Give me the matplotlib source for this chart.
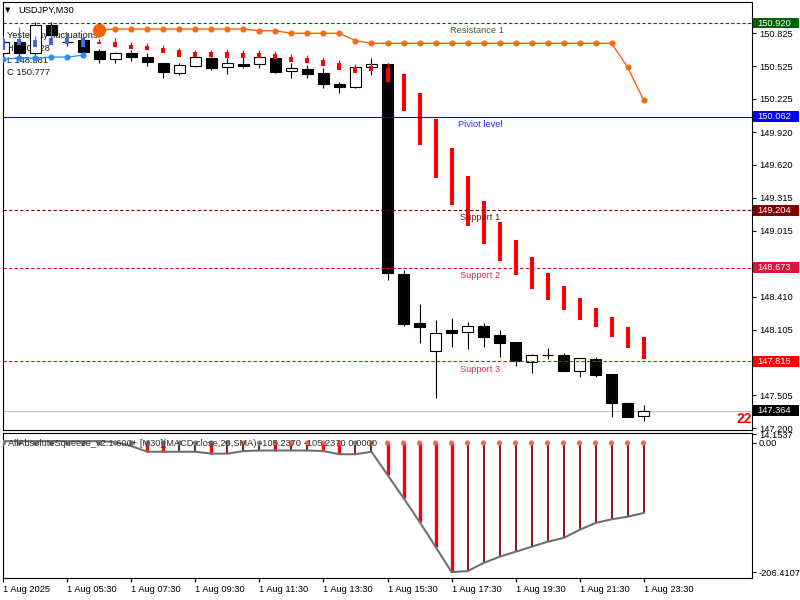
import matplotlib
matplotlib.use('Agg')
import matplotlib.pyplot as plt
import matplotlib.transforms as mtransforms
from matplotlib.patches import Rectangle
import numpy as np

plt.rcParams['font.family'] = ['Liberation Sans', 'DejaVu Sans']
FS = 6.7
nan = np.nan

symbol = 'USDJPY,M30'
yesterday = ['Yesterday fluctuations:', 'H 150.828', 'L 148.581', 'C 150.777']

# 41 visible M30 bars
opens  = [150.645, 150.746, 150.645, 150.902, 150.750, 150.764, 150.663, 150.590, 150.645, 150.608,
          150.553, 150.461, 150.526, 150.599, 150.516, 150.540, 150.544, 150.599, 150.480, 150.498,
          150.461, 150.360, 150.333, 150.516, 150.544, 148.617, 148.168, 147.911, 148.104, 148.085,
          148.140, 148.058, 147.994, 147.810, 147.874, 147.874, 147.727, 147.838, 147.700, 147.434,
          147.310]
highs  = [150.773, 150.782, 150.929, 150.929, 150.782, 150.782, 150.681, 150.654, 150.672, 150.645,
          150.553, 150.553, 150.626, 150.608, 150.599, 150.608, 150.626, 150.626, 150.553, 150.535,
          150.507, 150.379, 150.535, 150.599, 150.553, 148.654, 148.342, 148.195, 148.214, 148.177,
          148.168, 148.104, 147.994, 147.883, 147.938, 147.893, 147.847, 147.856, 147.700, 147.434,
          147.416]
lows   = [150.617, 150.617, 150.626, 150.737, 150.709, 150.636, 150.553, 150.553, 150.571, 150.526,
          150.415, 150.443, 150.516, 150.489, 150.452, 150.507, 150.507, 150.461, 150.415, 150.415,
          150.324, 150.278, 150.324, 150.443, 148.562, 148.140, 147.984, 147.480, 147.948, 147.929,
          147.948, 147.856, 147.773, 147.709, 147.838, 147.727, 147.672, 147.672, 147.305, 147.305,
          147.269]
closes = [150.746, 150.645, 150.902, 150.810, 150.742, 150.654, 150.590, 150.645, 150.608, 150.562,
          150.470, 150.535, 150.608, 150.507, 150.553, 150.530, 150.608, 150.470, 150.507, 150.452,
          150.360, 150.333, 150.516, 150.544, 148.627, 148.159, 148.131, 148.076, 148.076, 148.140,
          148.039, 147.984, 147.819, 147.874, 147.874, 147.727, 147.847, 147.691, 147.434, 147.305,
          147.364]

# marker bars drawn over the candles (blue first six, red after)
mark_wick = [150.801, 150.883, 150.801, 150.902, 150.828, 150.801, 150.773, 150.782, 150.746, 150.737,
             150.718, 150.691, 150.672, 150.672, 150.681, 150.672, 150.672, 150.663, 150.636, 150.626,
             150.608, 150.581, 150.544, 150.553, 150.553, 150.461, 150.278, 150.039, 149.773, 149.516,
             149.287, 149.094, 148.929, 148.773, 148.627, 148.507, 148.397, 148.305, 148.223, 148.131,
             148.039]
mark_top  = [150.773, 150.773, 150.764, 150.782, 150.782, 150.782, 150.746, 150.746, 150.718, 150.709,
             150.691, 150.672, 150.654, 150.654, 150.654, 150.645, 150.645, 150.636, 150.608, 150.599,
             150.581, 150.553, 150.516, 150.526, 150.507, 150.452, 150.278, 150.039, 149.773, 149.516,
             149.287, 149.094, 148.929, 148.773, 148.627, 148.507, 148.397, 148.305, 148.223, 148.131,
             148.039]
mark_bot  = [150.672, 150.718, 150.700, 150.718, 150.727, 150.700, 150.727, 150.700, 150.681, 150.672,
             150.645, 150.608, 150.608, 150.608, 150.599, 150.599, 150.599, 150.590, 150.562, 150.553,
             150.526, 150.489, 150.461, 150.480, 150.379, 150.113, 149.801, 149.498, 149.250, 149.058,
             148.893, 148.737, 148.608, 148.480, 148.379, 148.287, 148.195, 148.131, 148.039, 147.938,
             147.838]
mark_colors = ['#4169e1'] * 6 + ['#ff0000'] * 35

orange_line = [nan, nan, nan, nan, nan, nan, 150.856, 150.865, 150.865, 150.865,
               150.865, 150.865, 150.865, 150.865, 150.865, 150.865, 150.849, 150.849, 150.826, 150.826,
               150.826, 150.826, 150.758, 150.734, 150.734, 150.734, 150.734, 150.734, 150.734, 150.734,
               150.734, 150.734, 150.734, 150.734, 150.734, 150.734, 150.734, 150.734, 150.734, 150.516,
               150.214]
blue_line = [150.590, 150.599, 150.599, 150.608, 150.608, 150.626] + [nan] * 35

level_names  = ['Resistance 1', 'Piviot level', 'Support 1', 'Support 2', 'Support 3']
level_prices = [150.920, 150.062, 149.204, 148.673, 147.815]
level_colors = ['#006400', '#0000ff', '#800000', '#dc143c', '#ff0000']
level_text_colors = ['#3f6a1c', '#2424ff', '#7a1414', '#e0245a', '#f0284e']
level_dashed = [True, False, True, True, True]
last_price = 147.364
bars_left = '22'

# scale ticks; the two hidden under the level boxes get no label
price_ticks = [150.825, 150.525, 150.225, 149.920, 149.620, 149.315, 149.015, 148.715,
               148.410, 148.105, 147.800, 147.505, 147.200]
price_ticklabels = ['150.825', '150.525', '150.225', '149.920', '149.620', '149.315', '149.015', '',
                    '148.410', '148.105', '', '147.505', '147.200']

# AllAbsoluteSqueeze subwindow
squeeze = [3, 3, 3, 3, 3, 3, 3, 1.6, -5, -14, -14, -14, -14, -17, -17, -13, -12, -12, -12, -12,
           -13, -18, -18, -14, -51, -88, -126, -166, -206.4107, -205, -192, -182, -174, -166, -158,
           -152, -139, -128, -122, -118, -112]
hist_falling = [0, 0, 0, 0, 0, 0, 0, 0, 1, 1, 1, 0, 0, 1, 0, 0, 0, 1, 0, 0,
                1, 1, 0, 0, 1, 1, 1, 1, 1, 0, 0, 0, 0, 0, 0, 0, 0, 0, 0, 0, 0]
squeeze_on = [0] * 15 + [1, 0, 1, 1, 1, 1, 1, 0] + [1] * 18
ind_title = 'AllAbsoluteSqueeze_v2.1 600+ [M30](MACD,close,20,SMA) -105.2370 -105.2370 0.0000'
ind_ticks = [14.1537, 0, -206.4107]
ind_ticklabels = ['14.1537', '0.00', '-206.4107']

time_labels = ['1 Aug 2025', '1 Aug 05:30', '1 Aug 07:30', '1 Aug 09:30', '1 Aug 11:30', '1 Aug 13:30',
               '1 Aug 15:30', '1 Aug 17:30', '1 Aug 19:30', '1 Aug 21:30', '1 Aug 23:30']

fig = plt.figure(figsize=(8, 6), dpi=100)
ax = fig.add_axes([3/800, 1-430/600, 749/800, 428/600])
ax2 = fig.add_axes([3/800, 1-578/600, 749/800, 145/600])

x = np.arange(len(closes))
xlo, xhi = -0.03, 46.78

# ---- main window
ax.set_xlim(xlo, xhi)
ax.set_ylim(147.186, 151.113)
for sp in ax.spines.values():
    sp.set_linewidth(0.8)

for i, t in enumerate(yesterday):
    ax.text(7/800, 1-(36 + 12.2*i)/600, t, transform=fig.transFigure, fontsize=FS,
            color='#1a1a1a', va='center', zorder=1)

ax.axhline(last_price, color='#c0c0c0', lw=0.8, zorder=1)

o = np.array(opens); c = np.array(closes)
ax.vlines(x, lows, highs, color='black', lw=0.8, zorder=2)
ax.bar(x, np.abs(c - o), bottom=np.minimum(o, c), width=0.66,
       color=np.where(c >= o, 'white', 'black'), edgecolor='black', linewidth=0.8, zorder=3)

ax.vlines(x, mark_top, mark_wick, colors=mark_colors, lw=0.8, zorder=4)
ax.vlines(x, mark_bot, mark_top, colors=mark_colors, lw=2.9, zorder=4, capstyle='butt')

ax.plot(x, blue_line, color='#1e90ff', lw=0.9, marker='o', ms=3.4, zorder=5)
ax.plot(x, orange_line, color='#ff5000', lw=0.9, marker='o', ms=3.4, mfc='#ff6a10', mec='#ff6a10', zorder=5)
first = np.where(~np.isnan(orange_line))[0][0]
ax.plot(x[first], orange_line[first], 'o', color='#ff6000', ms=8.6, zorder=6)

label_x = [27.9, 28.4, 28.5, 28.5, 28.5]
for name, p, col, tc, d, lx in zip(level_names, level_prices, level_colors,
                                   level_text_colors, level_dashed, label_x):
    ax.axhline(p, color=col, lw=0.8, ls=(0, (3, 2)) if d else '-', zorder=7)
    ax.annotate(name, (lx, p), xytext=(0, -5.6), textcoords='offset points',
                color=tc, fontsize=FS, va='center', ha='left', zorder=7)

ax.set_xticks([])
ax.yaxis.tick_right()
ax.set_yticks(price_ticks)
ax.set_yticklabels(price_ticklabels, fontsize=FS)
ax.tick_params(axis='y', direction='out', length=3, width=0.8, pad=2)

tr = mtransforms.blended_transform_factory(ax.transAxes, ax.transData)
for p, col in zip(level_prices + [last_price], level_colors + ['black']):
    ax.add_patch(Rectangle((1.0015, p - 0.05), 0.0615, 0.1, transform=tr, facecolor=col,
                           edgecolor='none', clip_on=False, zorder=10))
    ax.text(1.0075, p, f'{p:.3f}', transform=tr, color='white', fontsize=FS,
            va='center', ha='left', zorder=11, clip_on=False)

ax.text(0.999, 147.287, bars_left, transform=tr, ha='right', va='center',
        color='red', fontsize=10, fontweight='bold', zorder=11)

fig.text(5/800, 1-10/600, '▼', fontsize=5, family='DejaVu Sans', va='center', ha='left')
fig.text(18/800, 1-10/600, symbol, fontsize=FS, va='center', ha='left')

# ---- indicator window
ax2.set_xlim(xlo, xhi)
ax2.set_ylim(-216, 16)
for sp in ax2.spines.values():
    sp.set_linewidth(0.8)
fall = np.array(hist_falling, dtype=bool)
ax2.vlines(x[fall], 0, np.array(squeeze)[fall], color='#ff0000', lw=2.4, capstyle='butt', zorder=2)
ax2.vlines(x[~fall], 0, np.array(squeeze)[~fall], color='#800000', lw=1.3, capstyle='butt', zorder=2)
ax2.plot(x, squeeze, color='#707070', lw=1.5, zorder=3)
on = np.array(squeeze_on, dtype=bool)
ax2.scatter(x, np.zeros(len(x)), s=14, c=np.where(on, '#ff6347', '#808080'), zorder=4, linewidths=0)
ax2.text(8/800, 1-443/600, ind_title, transform=fig.transFigure, fontsize=FS,
         color='#303030', va='center', ha='left', zorder=5)

ax2.yaxis.tick_right()
ax2.set_yticks(ind_ticks)
ax2.set_yticklabels(ind_ticklabels, fontsize=FS)
ax2.tick_params(axis='y', direction='out', length=3, width=0.8, pad=2)
ax2.set_xticks(np.arange(0, 41, 4))
ax2.set_xticklabels(time_labels, fontsize=FS, ha='left')
ax2.tick_params(axis='x', direction='out', length=3, width=0.8, pad=2)

fig.savefig('out.png', dpi=100, facecolor='white')
